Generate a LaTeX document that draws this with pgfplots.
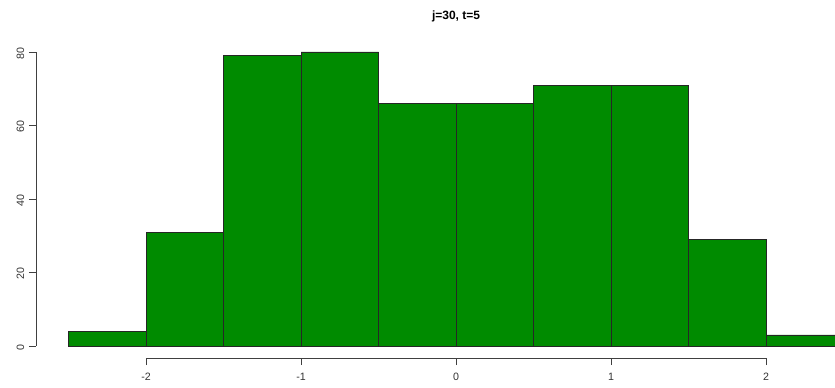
\documentclass[border=0pt]{standalone}
\usepackage{fontspec}
\setmainfont{Liberation Sans}
\usepackage{pgfplots}
\pgfplotsset{compat=1.18}
\definecolor{greenfour}{RGB}{0,139,0}
\begin{document}
\begin{tikzpicture}
\begin{axis}[
  x=116.25pt, y=2.75625pt,
  xmin=-2.71, xmax=2.445, ymin=-3.27, ymax=94.15,
  axis x line=bottom, axis y line=left,
  axis line style={draw=none, -},
  xtick={-2,-1,0,1,2},
  xticklabels={-2,-1,0,1,2},
  ytick={0,20,40,60,80},
  yticklabels={0,20,40,60,80},
  tick align=outside,
  major tick length=5.25pt,
  tick style={black!75, line width=0.6pt},
  ticklabel style={font=\fontsize{8}{9.6}\selectfont, text=black!80},
  x tick label style={anchor=north, yshift=-2.2pt},
  y tick label style={rotate=90, anchor=south, xshift=-1pt},
  clip=true,
]
\addplot[ybar interval, fill=greenfour, draw=black!85, line width=0.6pt]
  coordinates {(-2.5,4) (-2,31) (-1.5,79) (-1,80) (-0.5,66) (0,66) (0.5,71) (1,71) (1.5,29) (2,3) (2.5,3)};
\coordinate (bl) at (axis cs:-2.942,-11.16);
\coordinate (tr) at (axis cs:2.445,94.15);
\coordinate (xa) at (axis cs:-2,-3.27);
\coordinate (xb) at (axis cs:2,-3.27);
\coordinate (ya) at (axis cs:-2.71,0);
\coordinate (yb) at (axis cs:-2.71,80);
\coordinate (tt) at (axis cs:0,89.7);
\end{axis}
\draw[black!75, line width=0.6pt] (xa) -- (xb);
\draw[black!75, line width=0.6pt] (ya) -- (yb);
\node[font=\fontsize{9}{11}\selectfont\bfseries] at (tt) {j=30, t=5};
\pgfresetboundingbox
\path (bl) rectangle (tr);
\end{tikzpicture}
\end{document}
